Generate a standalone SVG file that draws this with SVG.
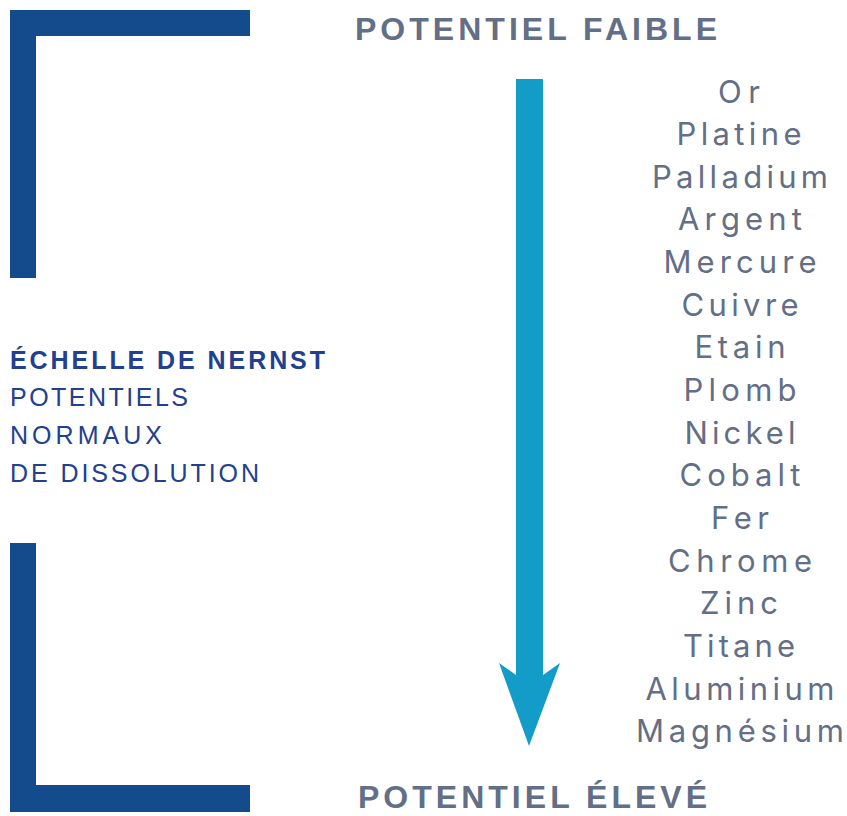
<svg xmlns="http://www.w3.org/2000/svg" width="847" height="816" viewBox="0 0 847 816">
<style>
.bracket{fill:#144B8C}
.arrow{fill:#149CC8}
.head{font-family:"Liberation Sans",Arial,sans-serif;font-weight:bold;font-size:32px;fill:#636E87}
.metal{font-family:Inter,"Liberation Sans",sans-serif;font-size:31px;fill:#636E87;text-anchor:middle}
.lt{font-family:"Liberation Sans",Arial,sans-serif;font-size:25px;fill:#22408F}
.ltb{font-weight:bold}
</style>
<rect width="847" height="816" fill="#ffffff"/>
<g id="bracket-top"><path class="bracket" d="M10,10 H250 V36 H36 V278 H10 Z"/></g>
<g id="bracket-bottom"><path class="bracket" d="M10,543 H36 V785 H250 V812 H10 Z"/></g>
<g id="title-top"><text class="head" x="355" y="40" textLength="362" lengthAdjust="spacing">POTENTIEL FAIBLE</text></g>
<g id="title-bottom"><text class="head" x="358" y="808" textLength="349" lengthAdjust="spacing">POTENTIEL ÉLEVÉ</text></g>
<g id="left-label">
<text class="lt ltb" x="10" y="369" textLength="315" lengthAdjust="spacing">ÉCHELLE DE NERNST</text>
<text class="lt" x="10" y="406" textLength="178" lengthAdjust="spacing">POTENTIELS</text>
<text class="lt" x="10" y="444" textLength="152" lengthAdjust="spacing">NORMAUX</text>
<text class="lt" x="10" y="482" textLength="249" lengthAdjust="spacing">DE DISSOLUTION</text>
</g>
<g id="connectors"><path class="arrow" d="M516,79 H543 V675 L560,663 L529,746 L499,663 L516,675 Z"/></g>
<g id="metals">
<text class="metal" x="739" y="103" textLength="42" lengthAdjust="spacing">Or</text>
<text class="metal" x="739" y="145" textLength="125" lengthAdjust="spacing">Platine</text>
<text class="metal" x="740" y="188" textLength="176" lengthAdjust="spacing">Palladium</text>
<text class="metal" x="740" y="230" textLength="124" lengthAdjust="spacing">Argent</text>
<text class="metal" x="740" y="273" textLength="153" lengthAdjust="spacing">Mercure</text>
<text class="metal" x="740" y="316" textLength="117" lengthAdjust="spacing">Cuivre</text>
<text class="metal" x="740" y="358" textLength="91" lengthAdjust="spacing">Etain</text>
<text class="metal" x="740" y="401" textLength="113" lengthAdjust="spacing">Plomb</text>
<text class="metal" x="740" y="444" textLength="111" lengthAdjust="spacing">Nickel</text>
<text class="metal" x="740" y="486" textLength="121" lengthAdjust="spacing">Cobalt</text>
<text class="metal" x="740" y="529" textLength="58" lengthAdjust="spacing">Fer</text>
<text class="metal" x="740" y="572" textLength="144" lengthAdjust="spacing">Chrome</text>
<text class="metal" x="739" y="614" textLength="78" lengthAdjust="spacing">Zinc</text>
<text class="metal" x="739" y="657" textLength="112" lengthAdjust="spacing">Titane</text>
<text class="metal" x="740" y="700" textLength="189" lengthAdjust="spacing">Aluminium</text>
<text class="metal" x="740" y="742" textLength="208" lengthAdjust="spacing">Magnésium</text>
</g>
</svg>
